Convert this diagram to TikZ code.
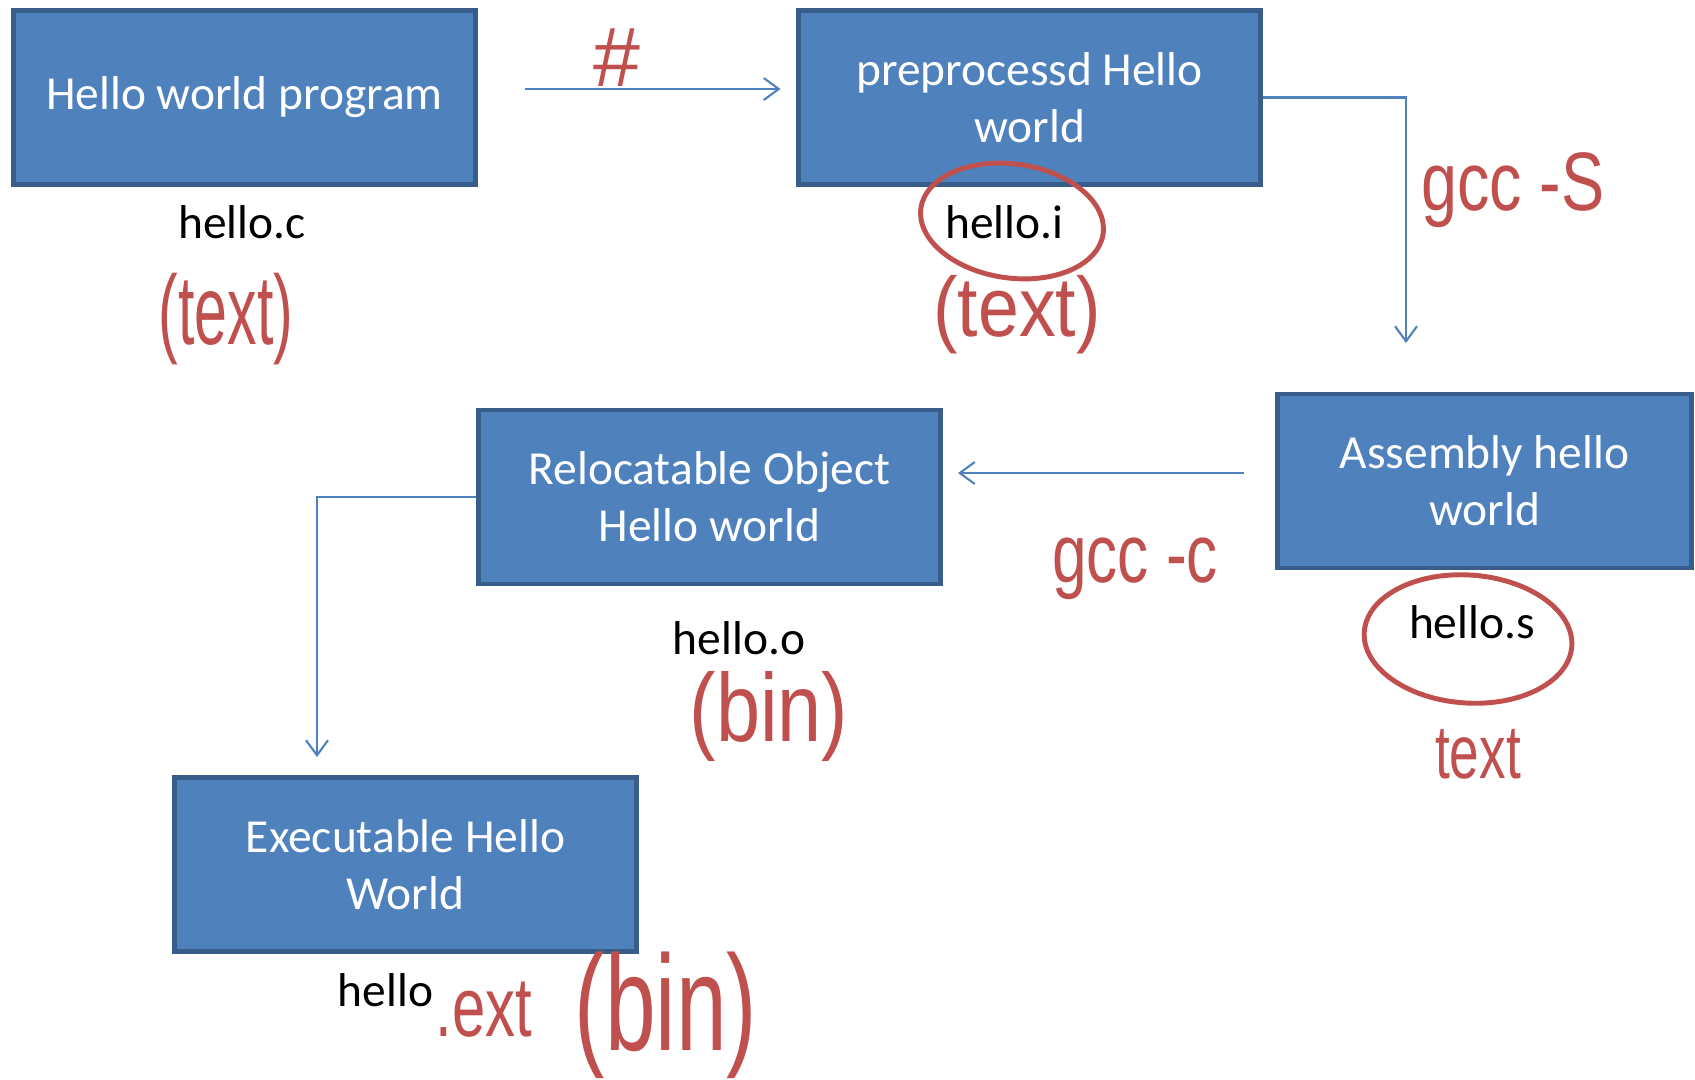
\documentclass[tikz,border=0pt]{standalone}
\usepackage{fontspec}
\setmainfont{Carlito}
\newfontfamily\notefont{Liberation Sans}
\usetikzlibrary{arrows.meta}
\definecolor{boxfill}{HTML}{4F81BD}
\definecolor{boxline}{HTML}{385D8A}
\definecolor{annot}{HTML}{C0504D}
\newcommand\handsz[1]{\notefont\fontsize{#1}{#1}\selectfont}
\tikzset{
  stage/.style={draw=boxline, fill=boxfill, line width=1.4pt, text=white, align=center,
    minimum width=4.62cm, minimum height=1.74cm, font=\fontsize{13.5}{16.2}\selectfont},
  fname/.style={anchor=base, inner sep=0pt, font=\fontsize{13.5}{16.2}\selectfont},
  flow/.style={draw=boxfill, line width=0.6pt, -{Straight Barb[length=1.5mm,width=2.2mm]}},
  note/.style={text=annot, inner sep=0pt},
  ring/.style={draw=annot, line width=1.4pt}
}
\begin{document}
\begin{tikzpicture}
\useasboundingbox (0,0) rectangle (16.95,-10.79);
\node[stage] (src) at (2.445,-0.975) {Hello world program};
\node[stage] (pre) at (10.295,-0.975) {preprocessd Hello\\world};
\node[stage, minimum width=4.14cm] (asm) at (14.845,-4.81) {Assembly hello\\world};
\node[stage] (obj) at (7.095,-4.97) {Relocatable Object\\Hello world};
\node[stage] (exe) at (4.055,-8.645) {Executable Hello\\World};

\node[fname] (fc) at (2.42,-2.38) {hello.c};
\node[fname] (fi) at (10.045,-2.38) {hello.i};
\node[fname] (fs) at (14.72,-6.38) {hello.s};
\node[fname] (fo) at (7.39,-6.54) {hello.o};
\node[fname] (fx) at (3.855,-10.06) {hello};

\coordinate (h1) at (5.245,-0.89);
\coordinate (h2) at (7.805,-0.89);
\coordinate (s2) at (14.06,-3.43);
\coordinate (c1) at (12.44,-4.73);
\coordinate (c2) at (9.58,-4.73);
\coordinate (e5) at (3.17,-7.57);
\draw[flow] (h1) -- (h2);
\draw[flow] (pre.east) -| (s2);
\draw[flow] (c1) -- (c2);
\draw[flow] (obj.west) -| (e5);

\draw[ring, rotate around={-8:(10.12,-2.21)}] (10.12,-2.21) ellipse (0.92 and 0.57);
\draw[ring, rotate around={-4:(14.68,-6.39)}] (14.68,-6.39) ellipse (1.04 and 0.64);
\node[note, font=\handsz{24}] (hash) at (6.17,-0.58) {\#};
\node[note, font=\handsz{28}, xscale=.6] (tc) at (2.26,-3.19) {(text)};
\node[note, font=\handsz{24}, xscale=.87] (ti) at (10.17,-3.15) {(text)};
\node[note, font=\handsz{23.6}, xscale=.78] (gs) at (15.13,-1.90) {gcc -S};
\node[note, font=\handsz{23.6}, xscale=.75] (gc) at (11.35,-5.69) {gcc -c};
\node[note, font=\handsz{21.6}, xscale=.7] (ts) at (14.78,-7.54) {text};
\node[note, font=\handsz{27.5}, xscale=.82] (bo) at (7.69,-7.16) {(bin)};
\node[note, font=\handsz{24}, xscale=.71] (ex) at (4.84,-10.10) {.ext};
\node[note, font=\handsz{38.7}, xscale=.67] (bx) at (6.66,-10.15) {(bin)};
\end{tikzpicture}
\end{document}
